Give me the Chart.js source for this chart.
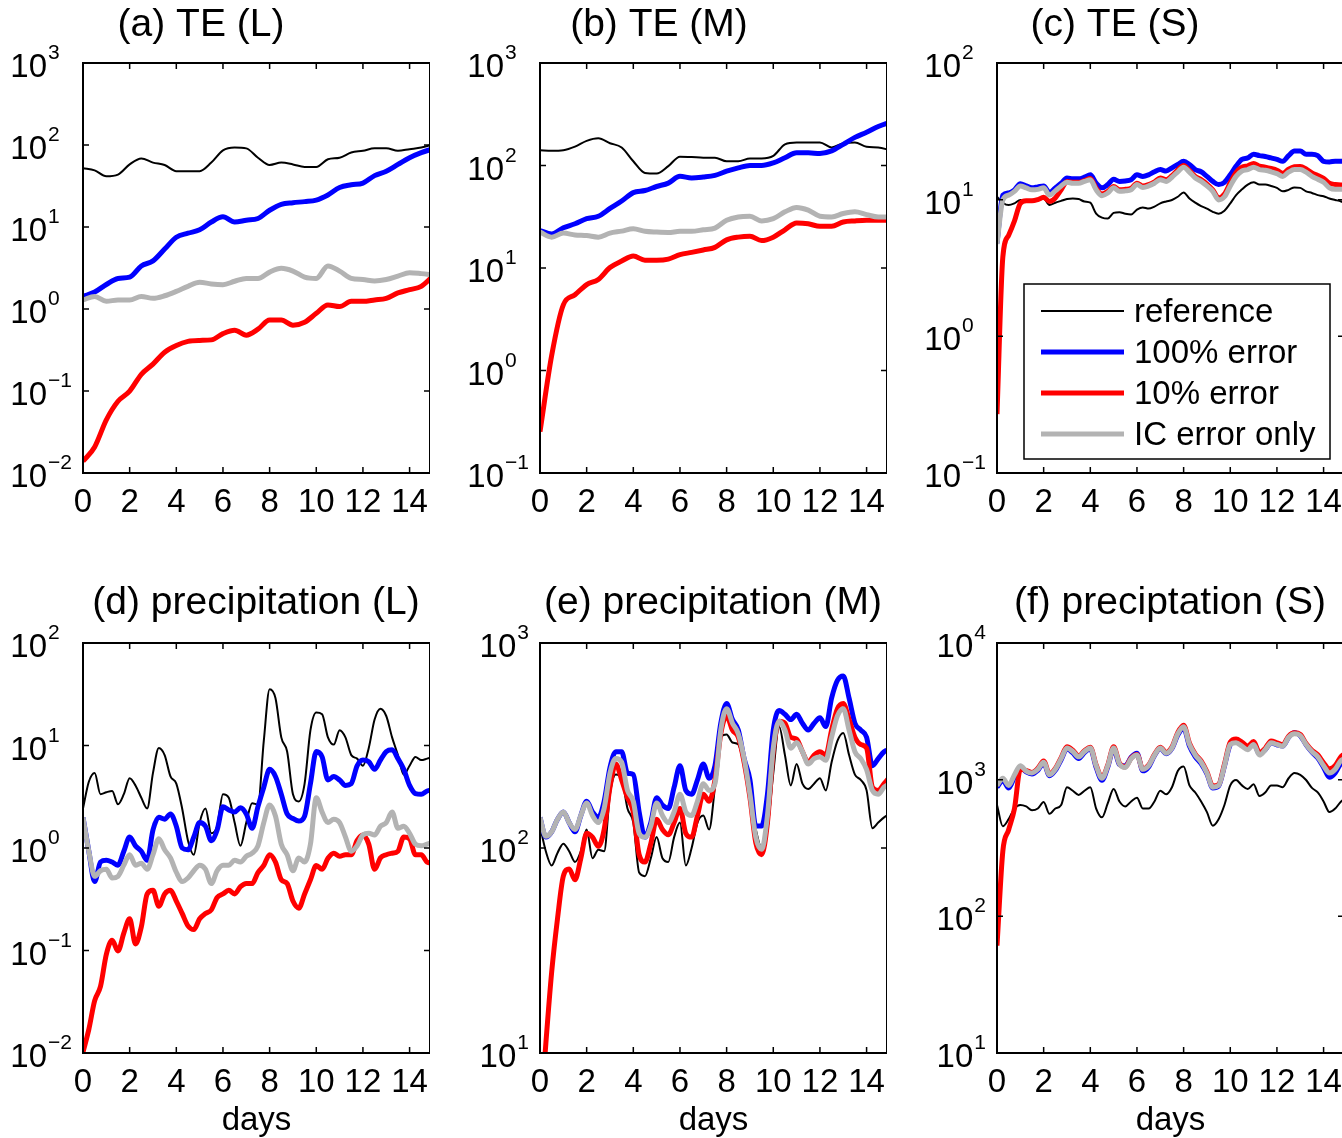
<!DOCTYPE html>
<html>
<head>
<meta charset="utf-8">
<script src="https://cdn.jsdelivr.net/npm/chart.js@4.4.1/dist/chart.umd.min.js"></script>
<style>
    html, body { margin: 0; padding: 0; background: #fff; overflow: hidden; }
    #page { position: relative; width: 1342px; height: 1138px; }
    canvas { position: absolute; }
</style>
</head>
<body>
<div id="page">
    <canvas id="te_large" width="430" height="530" style="left:0px;top:0px;width:430px;height:530px"></canvas>
    <canvas id="te_medium" width="430" height="530" style="left:457px;top:0px;width:430px;height:530px"></canvas>
    <canvas id="te_small" width="430" height="530" style="left:914px;top:0px;width:430px;height:530px"></canvas>
    <canvas id="precip_large" width="430" height="558" style="left:0px;top:580px;width:430px;height:558px"></canvas>
    <canvas id="precip_medium" width="430" height="558" style="left:457px;top:580px;width:430px;height:558px"></canvas>
    <canvas id="precip_small" width="430" height="558" style="left:914px;top:580px;width:430px;height:558px"></canvas>
</div>
<script>
// Forecast days: the TE (L) and TE (M) runs are kept every half day, the rest every quarter day.
const daysHalf = Array.from({ length: 31 }, (_, i) => i * 0.5);
const daysQuarter = Array.from({ length: 61 }, (_, i) => i * 0.25);

const dayTicks = [0, 2, 4, 6, 8, 10, 12, 14];
const teTicksL = [0.01, 0.1, 1, 10, 100, 1000];
const teTicksM = [0.1, 1, 10, 100, 1000];
const teTicksS = [0.1, 1, 10, 100];
const prTicksL = [0.01, 0.1, 1, 10, 100];
const prTicksM = [10, 100, 1000];
const prTicksS = [10, 100, 1000, 10000];

const seriesLabels = ['reference', '100% error', '10% error', 'IC error only'];

// TE (L)
const teL_reference = [52, 49, 41.5, 43.5, 58, 68.6, 61, 57, 48, 48, 48, 61, 86, 93, 91, 70,
    57, 61, 58, 54, 54, 67, 70, 81, 85, 91, 91, 85, 89, 93, 102];
const teL_err100 = [1.42, 1.61, 1.99, 2.36, 2.45, 3.35, 3.86, 5.38, 7.5, 8.4, 9.25, 11.5, 13.3, 11.5, 12.1, 12.7,
    16, 18.9, 19.8, 20.4, 21.3, 24.6, 30.3, 32.7, 34.3, 42.3, 47.9, 57.9, 70, 80.7, 90];
const teL_err10 = [0.0139, 0.0208, 0.0445, 0.075, 0.0996, 0.16, 0.213, 0.297, 0.359, 0.403, 0.414, 0.42, 0.501, 0.551, 0.48, 0.567,
    0.732, 0.732, 0.635, 0.69, 0.885, 1.12, 1.07, 1.24, 1.24, 1.29, 1.35, 1.57, 1.72, 1.89, 2.52];
const teL_icOnly = [1.29, 1.42, 1.24, 1.29, 1.29, 1.42, 1.35, 1.45, 1.64, 1.89, 2.12, 2.02, 1.98, 2.18, 2.36, 2.36,
    2.82, 3.13, 2.9, 2.45, 2.36, 3.35, 2.9, 2.36, 2.29, 2.2, 2.29, 2.52, 2.77, 2.7, 2.6];

// TE (M)
const teM_reference = [141, 139, 141, 153, 174, 184, 165, 150, 110, 84.6, 83.4, 98.5, 122, 121, 119, 119,
    110, 110, 117, 117, 124, 161, 168, 168, 168, 150, 165, 168, 152, 150, 141];
const teM_err100 = [23.2, 21.5, 24.7, 27, 30.3, 32, 38.1, 45, 54.4, 57, 62.4, 67.3, 78.4, 75.5, 77.2, 80.2,
    87.9, 94.8, 100, 100, 106, 119, 133, 133, 131, 139, 161, 188, 211, 240, 264];
const teM_err10 = [0.253, 1.4, 4.37, 5.48, 6.89, 7.73, 10.1, 11.7, 13.1, 11.9, 11.9, 12.2, 13.5, 14.2, 15, 15.9,
    18.8, 20, 20.4, 18.5, 20, 23.6, 27.5, 27, 25.5, 25.5, 28.1, 28.8, 29.2, 29.2, 29.2];
const teM_icOnly = [22.4, 20, 21.9, 21, 20.7, 20, 21.9, 22.9, 24.2, 22.8, 22.4, 22.2, 22.8, 22.8, 23.6, 24.5,
    29.2, 31.5, 32, 28.8, 30.3, 35.3, 39, 36.7, 32, 31.5, 34, 35.3, 33.2, 31.5, 31.5];

// TE (S)
const teS_reference = [10.5, 9.5, 9.13, 9.4, 9.95, 9.8, 9.95, 9.95,
    10.2, 9.13, 9.5, 9.8, 10.1, 10.2, 10.1, 9.7,
    9.5, 7.9, 7.39, 7.27, 8.0, 8.1, 7.9, 7.8,
    8.47, 8.77, 8.6, 8.9, 9.4, 9.7, 9.95, 10.5,
    11.3, 10.2, 9.5, 8.97, 8.6, 8.15, 7.9, 8.3,
    9.4, 10.8, 11.9, 12.9, 13.4, 12.9, 12.9, 12.6,
    12.2, 11.5, 11.8, 12.3, 12.2, 11.5, 11.2, 10.8,
    10.6, 10.2, 9.95, 9.7, 9.4];
const teS_err100 = [4.8, 10.8, 11.2, 11.8, 13.1, 12.6, 12.2, 12.4,
    12.6, 11.3, 12.2, 13.2, 14.4, 14.2, 14.2, 14.6,
    15.2, 13.2, 12.2, 12.9, 14.1, 13.6, 13.7, 14.0,
    15.2, 14.8, 15.2, 16.0, 16.6, 16.2, 17.1, 18.1,
    19.1, 18.1, 16.6, 16.0, 14.8, 13.6, 12.9, 13.4,
    15.2, 17.6, 19.7, 20.2, 21.5, 21.0, 20.7, 20.2,
    19.7, 19.1, 21.0, 22.7, 22.7, 21.5, 21.5, 21.0,
    19.1, 18.9, 19.1, 19.1, 19.1];
const teS_err10 = [0.27, 3.8, 5.5, 7.0, 9.4, 9.8, 9.8, 10.0,
    10.4, 9.7, 10.3, 11.8, 13.6, 13.4, 13.4, 13.8,
    14.3, 12.1, 11.0, 11.5, 12.5, 11.8, 11.9, 12.1,
    13.2, 12.6, 12.9, 13.5, 14.4, 14.0, 15.0, 16.5,
    17.8, 16.3, 14.8, 14.0, 13.0, 11.8, 10.3, 11.0,
    13.3, 15.8, 17.3, 17.7, 18.4, 17.6, 17.3, 16.9,
    16.4, 15.6, 16.7, 17.4, 17.5, 16.8, 15.7, 15.0,
    14.3, 13.2, 12.9, 12.8, 12.8];
const teS_icOnly = [4.74, 9.95, 10.8, 11.5, 12.6, 12.2, 11.8, 11.9,
    12.2, 10.8, 11.6, 12.6, 13.4, 13.2, 13.2, 13.6,
    14.0, 11.8, 10.7, 11.2, 12.2, 11.5, 11.6, 11.8,
    12.9, 12.3, 12.6, 13.2, 14.0, 13.6, 14.6, 16.0,
    17.3, 15.9, 14.4, 13.6, 12.6, 11.5, 9.95, 10.5,
    12.6, 14.8, 16.2, 16.6, 17.3, 16.6, 16.4, 16.0,
    15.5, 14.8, 15.9, 16.6, 16.6, 15.9, 14.8, 14.1,
    13.4, 12.2, 11.9, 11.9, 11.9];

// precipitation (L)
const prL_reference = [2.43, 4.43, 5.4, 3.35, 3.5, 3.6, 2.67, 3.35,
    4.8, 4.08, 3.09, 2.43, 5.4, 9.46, 8.06, 4.99,
    4.25, 2.43, 1.18, 0.86, 1.77, 2.43, 1.39, 1.63,
    3.35, 3.09, 1.77, 1.05, 1.77, 2.74, 2.65, 11.1,
    35.4, 29.0, 12.0, 8.73, 3.35, 2.85, 4.25, 14.1,
    21.0, 20.2, 12.0, 10.2, 14.1, 12.0, 8.06, 7.45,
    6.34, 9.46, 17.9, 22.8, 19.4, 12.0, 8.06, 5.19,
    6.34, 7.74, 7.2, 7.45, 7.74];
const prL_err100 = [1.99, 0.93, 0.47, 0.73, 0.76, 0.73, 0.68, 0.93,
    1.28, 1.05, 0.93, 0.76, 1.5, 1.99, 1.91, 2.15,
    1.63, 1.0, 0.96, 1.28, 1.77, 1.63, 1.18, 1.5,
    2.53, 2.35, 2.24, 2.47, 2.15, 1.56, 2.53, 3.92,
    5.85, 4.99, 3.35, 2.15, 1.94, 1.83, 2.05, 4.25,
    8.73, 7.74, 4.6, 4.99, 4.6, 4.08, 4.25, 6.34,
    7.2, 6.95, 5.85, 7.2, 8.73, 9.1, 7.45, 5.85,
    4.08, 3.4, 3.35, 3.6, 3.7];
const prL_err10 = [0.0102, 0.017, 0.0324, 0.0446, 0.0916, 0.126, 0.099, 0.148,
    0.204, 0.116, 0.17, 0.356, 0.386, 0.27, 0.356, 0.386,
    0.304, 0.23, 0.174, 0.16, 0.204, 0.23, 0.249, 0.329,
    0.356, 0.386, 0.356, 0.419, 0.45, 0.45, 0.575, 0.676,
    0.86, 0.73, 0.49, 0.45, 0.304, 0.259, 0.356, 0.49,
    0.676, 0.62, 0.795, 0.89, 0.83, 0.86, 0.86, 1.18,
    1.34, 1.09, 0.62, 0.8, 0.86, 0.89, 0.93, 1.28,
    1.23, 0.86, 0.86, 0.73, 0.71];
const prL_icOnly = [1.99, 0.93, 0.53, 0.6, 0.62, 0.51, 0.53, 0.68,
    0.86, 0.68, 0.71, 0.62, 0.86, 1.23, 0.96, 0.8,
    0.58, 0.47, 0.51, 0.6, 0.68, 0.62, 0.45, 0.6,
    0.68, 0.68, 0.76, 0.73, 0.83, 0.89, 1.05, 1.77,
    2.63, 2.05, 1.09, 0.86, 0.6, 0.8, 0.73, 1.09,
    3.09, 2.24, 1.77, 1.91, 1.77, 1.28, 0.93, 1.05,
    1.34, 1.39, 1.34, 1.63, 1.77, 2.24, 1.56, 1.63,
    1.39, 1.09, 1.05, 1.09, 1.14];

// precipitation (M)
const prM_reference = [128, 96.4, 82.2, 94.6, 105, 96.4, 85.5, 96.4,
    123, 89.1, 98, 96.4, 183, 228, 219, 156,
    133, 75.9, 72.9, 89.1, 113, 89.1, 85.5, 113,
    133, 82.2, 100, 133, 144, 123, 198, 347,
    358, 327, 320, 252, 169, 123, 100, 123,
    232, 391, 284, 202, 257, 206, 194, 206,
    219, 191, 262, 333, 364, 284, 228, 215,
    191, 125, 133, 141, 147];
const prM_err100 = [141, 113, 120, 138, 150, 133, 120, 144,
    169, 150, 141, 169, 247, 295, 295, 232,
    228, 150, 113, 133, 176, 162, 156, 198,
    252, 191, 183, 215, 257, 219, 252, 406,
    507, 423, 376, 273, 215, 128, 128, 183,
    376, 468, 449, 423, 449, 406, 376, 406,
    432, 391, 538, 657, 690, 538, 406, 376,
    347, 252, 273, 295, 302];
const prM_err10 = [4.5, 11.1, 24.8, 45.2, 72.9, 79, 70, 89,
    118, 113, 102, 123, 198, 257, 215, 176,
    150, 92.7, 85.5, 105, 138, 123, 116, 133,
    156, 118, 113, 144, 183, 169, 215, 361,
    441, 376, 347, 262, 176, 106, 92.7, 133,
    295, 415, 406, 347, 340, 295, 262, 284,
    295, 284, 376, 478, 507, 423, 347, 320,
    307, 198, 191, 206, 223];
const prM_icOnly = [141, 114, 120, 138, 150, 133, 123, 144,
    166, 144, 133, 156, 232, 273, 262, 191,
    169, 118, 113, 128, 166, 144, 133, 150,
    183, 150, 144, 169, 206, 191, 206, 376,
    478, 406, 361, 273, 183, 113, 98.5, 144,
    307, 415, 376, 307, 327, 295, 257, 273,
    278, 268, 347, 441, 478, 376, 295, 273,
    241, 191, 183, 198, 206];

// precipitation (S)
const prS_reference = [653, 456, 514, 615, 653, 637, 597, 615,
    686, 562, 615, 653, 881, 830, 773, 830,
    881, 615, 530, 673, 855, 693, 637, 693,
    736, 615, 615, 693, 830, 782, 881, 1156,
    1248, 908, 806, 693, 579, 461, 514, 653,
    908, 994, 908, 855, 925, 759, 806, 908,
    908, 881, 1024, 1119, 1086, 994, 871, 806,
    693, 579, 615, 693, 736];
const prS_err100 = [880, 990, 870, 1050, 1240, 1140, 1100, 1170,
    1320, 1070, 1170, 1400, 1680, 1570, 1430, 1580,
    1680, 1230, 990, 1240, 1680, 1290, 1260, 1460,
    1560, 1160, 1240, 1500, 1690, 1550, 1690, 2120,
    2380, 1760, 1470, 1310, 1100, 870, 900, 1260,
    1800, 1900, 1800, 1720, 1850, 1540, 1660, 1860,
    1800, 1760, 2040, 2200, 2100, 1800, 1590, 1440,
    1230, 1040, 1120, 1320, 1380];
const prS_err10 = [61, 300, 430, 615, 1191, 1170, 1130, 1210,
    1370, 1100, 1210, 1450, 1740, 1640, 1490, 1630,
    1730, 1280, 1040, 1280, 1740, 1320, 1240, 1440,
    1530, 1200, 1280, 1530, 1730, 1580, 1730, 2210,
    2500, 1850, 1540, 1370, 1140, 900, 920, 1300,
    1880, 1980, 1880, 1760, 1900, 1580, 1700, 1920,
    1860, 1800, 2080, 2200, 2140, 1840, 1640, 1520,
    1330, 1200, 1270, 1480, 1560];
const prS_icOnly = [908, 1024, 908, 1086, 1265, 1156, 1119, 1191,
    1343, 1086, 1191, 1426, 1706, 1607, 1469, 1607,
    1706, 1265, 1024, 1265, 1706, 1303, 1228, 1426,
    1514, 1191, 1265, 1514, 1706, 1560, 1706, 2168,
    2443, 1811, 1514, 1343, 1119, 881, 908, 1265,
    1811, 1866, 1758, 1656, 1811, 1514, 1656, 1866,
    1811, 1758, 2042, 2168, 2104, 1811, 1607, 1469,
    1265, 1119, 1191, 1384, 1426];

const fontFamily = "'Liberation Sans', Arial, Helvetica, sans-serif";
const lineColors = ['#000000', '#0000ff', '#ff0000', '#b3b3b3'];
const lineWidths = [2, 5, 5, 5];

// Boxed axes with inward ticks, 10^n labels, panel title and the optional legend box.
const matlabAxes = {
    id: 'matlabAxes',
    afterDatasetsDraw(chart, args, opts) {
        const { ctx, chartArea: area, scales: { x, y } } = chart;
        ctx.save();

        ctx.strokeStyle = '#000';
        ctx.lineWidth = 1.5;
        ctx.beginPath();
        x.ticks.forEach(t => {
            const px = x.getPixelForValue(t.value);
            ctx.moveTo(px, area.bottom); ctx.lineTo(px, area.bottom - 6);
            ctx.moveTo(px, area.top); ctx.lineTo(px, area.top + 6);
        });
        y.ticks.forEach(t => {
            const py = y.getPixelForValue(t.value);
            ctx.moveTo(area.left, py); ctx.lineTo(area.left + 6, py);
            ctx.moveTo(area.right, py); ctx.lineTo(area.right - 6, py);
        });
        ctx.stroke();
        ctx.lineWidth = 2;
        ctx.strokeRect(area.left, area.top, area.right - area.left, area.bottom - area.top);

        // decade labels: "10" plus a raised exponent
        const baseFont = '33px ' + fontFamily;
        const supFont = '21px ' + fontFamily;
        const labels = y.ticks.map(t => {
            const e = Math.round(Math.log10(t.value));
            return { py: y.getPixelForValue(t.value), exp: (e < 0 ? '\u2212' : '') + Math.abs(e) };
        });
        ctx.font = baseFont;
        const w10 = ctx.measureText('10').width;
        ctx.font = supFont;
        const widest = Math.max(...labels.map(l => ctx.measureText(l.exp).width));
        const left = area.left - 11 - (w10 + 1 + widest);
        ctx.fillStyle = '#000';
        ctx.textAlign = 'left';
        ctx.textBaseline = 'alphabetic';
        labels.forEach(l => {
            ctx.font = baseFont;
            ctx.fillText('10', left, l.py + 14);
            ctx.font = supFont;
            ctx.fillText(l.exp, left + w10 + 1, l.py - 4);
        });

        ctx.font = '39px ' + fontFamily;
        ctx.textAlign = 'center';
        ctx.fillText(opts.title, opts.titleX, opts.titleY);

        if (opts.legend) {
            const box = opts.legend;
            ctx.fillStyle = '#fff';
            ctx.fillRect(box.left, box.top, box.width, box.height);
            ctx.lineWidth = 1.5;
            ctx.strokeRect(box.left, box.top, box.width, box.height);
            ctx.font = '33px ' + fontFamily;
            ctx.textAlign = 'left';
            chart.data.datasets.forEach((ds, i) => {
                const ly = box.top + box.firstRow + i * box.rowGap;
                ctx.strokeStyle = ds.borderColor;
                ctx.lineWidth = ds.borderWidth;
                ctx.beginPath();
                ctx.moveTo(box.left + 17, ly);
                ctx.lineTo(box.left + 100, ly);
                ctx.stroke();
                ctx.fillStyle = '#000';
                ctx.fillText(ds.label, box.left + 110, ly + 11);
            });
        }
        ctx.restore();
    }
};

function panel_chart(id, title, titleX, titleY, days, series, yTicks, showDays, legend) {
    const ctx = document.getElementById(id);

    new Chart(ctx, {
        type: 'line',
        data: {
            datasets: series.map((values, i) => ({
                label: seriesLabels[i],
                data: values.map((v, j) => ({ x: days[j], y: v })),
                borderColor: lineColors[i],
                borderWidth: lineWidths[i],
                pointRadius: 0,
                cubicInterpolationMode: 'monotone',
                clip: 0,
                order: series.length - i,
            })),
        },
        options: {
            responsive: false,
            animation: false,
            devicePixelRatio: 1,
            layout: { padding: { top: 63, left: 0, right: 0, bottom: 0 } },
            plugins: {
                legend: { display: false },
                tooltip: { enabled: false },
                matlabAxes: { title: title, titleX: titleX, titleY: titleY, legend: legend },
            },
            scales: {
                x: {
                    type: 'linear',
                    min: 0,
                    max: 14.875,
                    afterBuildTicks: scale => { scale.ticks = dayTicks.map(v => ({ value: v })); },
                    afterFit: scale => {
                        scale.height = ctx.height - 473;
                        scale.paddingLeft = 0;
                        scale.paddingRight = 0;
                    },
                    grid: { display: false },
                    border: { display: false },
                    ticks: {
                        color: '#000',
                        padding: 2,
                        autoSkip: false,
                        maxRotation: 0,
                        font: { family: fontFamily, size: 33 },
                        callback: v => String(v),
                    },
                    title: {
                        display: showDays,
                        text: 'days',
                        color: '#000',
                        font: { family: fontFamily, size: 33 },
                        padding: { top: 0, bottom: -3 },
                    },
                },
                y: {
                    type: 'logarithmic',
                    min: yTicks[0],
                    max: yTicks[yTicks.length - 1],
                    afterBuildTicks: scale => { scale.ticks = yTicks.map(v => ({ value: v })); },
                    afterFit: scale => {
                        scale.width = 83;
                        scale.paddingTop = 0;
                        scale.paddingBottom = 0;
                    },
                    grid: { display: false },
                    border: { display: false },
                    ticks: { display: false },
                },
            },
        },
        plugins: [matlabAxes],
    });
}

// Upper row: total energy
panel_chart('te_large', '(a) TE (L)', 201, 36, daysHalf,
    [teL_reference, teL_err100, teL_err10, teL_icOnly], teTicksL, false, null);
panel_chart('te_medium', '(b) TE (M)', 202, 36, daysHalf,
    [teM_reference, teM_err100, teM_err10, teM_icOnly], teTicksM, false, null);
panel_chart('te_small', '(c) TE (S)', 201, 36, daysQuarter,
    [teS_reference, teS_err100, teS_err10, teS_icOnly], teTicksS, false,
    { left: 110, top: 284, width: 306, height: 175, firstRow: 27, rowGap: 41 });

// Lower row: precipitation
panel_chart('precip_large', '(d) precipitation (L)', 256, 34, daysQuarter,
    [prL_reference, prL_err100, prL_err10, prL_icOnly], prTicksL, true, null);
panel_chart('precip_medium', '(e) precipitation (M)', 256, 34, daysQuarter,
    [prM_reference, prM_err100, prM_err10, prM_icOnly], prTicksM, true, null);
panel_chart('precip_small', '(f) preciptation (S)', 256, 34, daysQuarter,
    [prS_reference, prS_err100, prS_err10, prS_icOnly], prTicksS, true, null);
</script>
</body>
</html>
